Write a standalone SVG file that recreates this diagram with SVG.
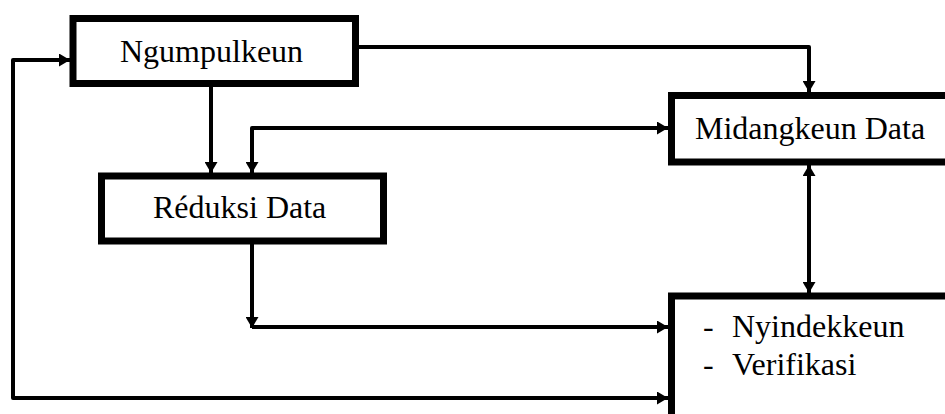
<svg xmlns="http://www.w3.org/2000/svg" width="945" height="414" viewBox="0 0 945 414">
  <style>
    .box { fill: #ffffff; stroke: #000000; stroke-width: 7; }
    .lbl { font-family: 'Liberation Serif', 'Times New Roman', serif; font-size: 32px; fill: #000000; }
    .conn { fill: none; stroke: #000000; stroke-width: 4; stroke-linejoin: round; }
  </style>
  <defs>
    <marker id="arr" viewBox="0 0 11 13" markerWidth="11" markerHeight="13" markerUnits="userSpaceOnUse" refX="11" refY="6.5" orient="auto-start-reverse">
      <path d="M0,0 L11,6.5 L0,13 z" fill="#000000"/>
    </marker>
  </defs>
  <g id="node-ngumpulkeun">
    <rect class="box" x="73" y="18.5" width="282.5" height="65"/>
    <text class="lbl" x="120" y="62">Ngumpulkeun</text>
  </g>
  <g id="node-midangkeun">
    <rect class="box" x="671.5" y="95.5" width="300" height="66.5"/>
    <text class="lbl" x="695" y="139">Midangkeun Data</text>
  </g>
  <g id="node-reduksi">
    <rect class="box" x="101.5" y="176" width="282" height="65"/>
    <text class="lbl" x="153" y="218">Réduksi Data</text>
  </g>
  <g id="node-nyindekkeun">
    <rect class="box" x="671.5" y="296" width="300" height="140"/>
    <text class="lbl" x="703" y="337">-</text>
    <text class="lbl" x="732" y="337">Nyindekkeun</text>
    <text class="lbl" x="703" y="375">-</text>
    <text class="lbl" x="732" y="375">Verifikasi</text>
  </g>
  <g id="connectors">
    <path class="conn" d="M358,47 H809 V92" marker-end="url(#arr)"/>
    <path class="conn" d="M211,87 V173" marker-end="url(#arr)"/>
    <path class="conn" d="M252,173 V128 H668" marker-start="url(#arr)" marker-end="url(#arr)"/>
    <path class="conn" d="M809,165 V293" marker-start="url(#arr)" marker-end="url(#arr)"/>
    <path class="conn" d="M252,244 V328" marker-end="url(#arr)"/>
    <path class="conn" d="M252,327 H668" marker-end="url(#arr)"/>
    <path class="conn" d="M668,398 H13 V60 H70" marker-start="url(#arr)" marker-end="url(#arr)"/>
  </g>
</svg>
